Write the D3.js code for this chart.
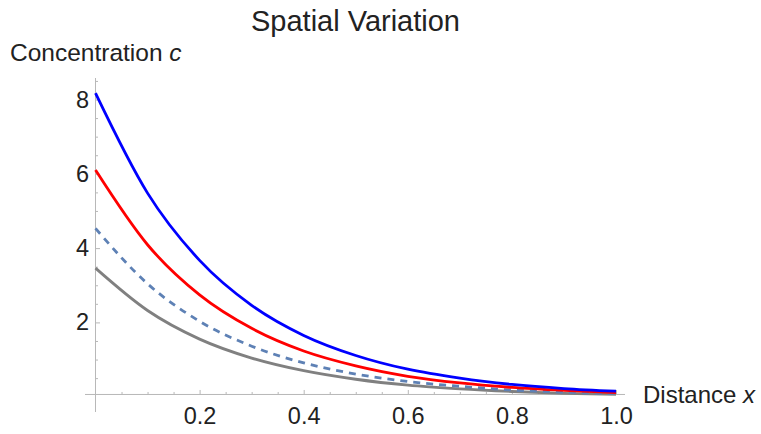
<!DOCTYPE html>
<html><head><meta charset="utf-8">
<script src="https://cdn.jsdelivr.net/npm/d3@7"></script>
<style>
html,body{margin:0;padding:0;background:#fff;}
svg{display:block;}
text{font-family:"Liberation Sans",Arial,sans-serif;fill:#222;}
</style></head>
<body>
<script>
// ---- data ----
const xs = [0, 0.1, 0.2, 0.3, 0.4, 0.5, 0.6, 0.7, 0.8, 0.9, 1.0];
const blueVals   = [8.17, 5.48, 3.67, 2.46, 1.65, 1.11, 0.74, 0.50, 0.33, 0.22, 0.15];
const redVals    = [6.10, 4.09, 2.74, 1.84, 1.23, 0.83, 0.55, 0.37, 0.25, 0.17, 0.11];
const dashedVals = [4.53, 3.04, 2.03, 1.36, 0.91, 0.61, 0.41, 0.28, 0.18, 0.12, 0.08];
const grayVals   = [3.46, 2.32, 1.55, 1.04, 0.70, 0.47, 0.31, 0.21, 0.14, 0.09, 0.06];
const xMajor = [0.2, 0.4, 0.6, 0.8, 1.0];
const xMajorLabels = ["0.2", "0.4", "0.6", "0.8", "1.0"];
const xMinor = [0.05,0.1,0.15,0.25,0.3,0.35,0.45,0.5,0.55,0.65,0.7,0.75,0.85,0.9,0.95];
const yMajor = [2, 4, 6, 8];
const yMajorLabels = ["2", "4", "6", "8"];
const yMinor = [0.5,1,1.5,2.5,3,3.5,4.5,5,5.5,6.5,7,7.5,8.5];
const axisOriginY = 0.06;
const title = "Spatial Variation";
const yLabel = "Concentration ";
const xLabel = "Distance ";

const W = 761, H = 434;
const svg = d3.select("body").append("svg").attr("width", W).attr("height", H);

const x = d3.scaleLinear().domain([0, 1]).range([95.5, 616]);
const y = d3.scaleLinear().domain([0, 8]).range([396.7, 99.5]);
const axisColor = "#b8b8b8";
const y0 = y(axisOriginY);

// axis lines
svg.append("line").attr("x1", 85).attr("x2", 625).attr("y1", y0).attr("y2", y0)
  .attr("stroke", axisColor).attr("stroke-width", 1);
svg.append("line").attr("x1", x(0)).attr("x2", x(0)).attr("y1", 78).attr("y2", 412)
  .attr("stroke", axisColor).attr("stroke-width", 1);

// x axis ticks
const gx = svg.append("g").attr("transform", `translate(0,${y0})`);
gx.append("g").call(d3.axisBottom(x).tickValues(xMinor).tickSizeInner(-2.5).tickSizeOuter(0).tickFormat(""));
gx.append("g").call(d3.axisBottom(x).tickValues(xMajor).tickSizeInner(-4.5).tickSizeOuter(0).tickPadding(12.5)
  .tickFormat((d, i) => xMajorLabels[i]));
// y axis ticks
const gy = svg.append("g").attr("transform", `translate(${x(0)},0)`);
gy.append("g").call(d3.axisLeft(y).tickValues(yMinor).tickSizeInner(-2.5).tickSizeOuter(0).tickFormat(""));
gy.append("g").call(d3.axisLeft(y).tickValues(yMajor).tickSizeInner(-4.5).tickSizeOuter(0).tickPadding(6.5)
  .tickFormat((d, i) => yMajorLabels[i]));
svg.selectAll(".domain").remove();
svg.selectAll(".tick line").attr("stroke", axisColor);
svg.selectAll(".tick text").attr("font-size", 23.5).attr("fill", "#222")
  .style("font-family", '"Liberation Sans",Arial,sans-serif');

// curves
const line = d3.line().x((d, i) => x(xs[i])).y(d => y(d)).curve(d3.curveMonotoneX);
const series = [
  {vals: grayVals, color: "#808080", dash: null},
  {vals: dashedVals, color: "#5E81B5", dash: "7,6"},
  {vals: redVals, color: "#ff0000", dash: null},
  {vals: blueVals, color: "#0000ff", dash: null}
];
series.forEach(s => {
  svg.append("path").attr("d", line(s.vals)).attr("fill", "none")
    .attr("stroke", s.color).attr("stroke-width", 2.8)
    .attr("stroke-dasharray", s.dash);
});

// texts
svg.append("text").attr("x", 355.5).attr("y", 31).attr("text-anchor", "middle")
  .attr("font-size", 29).text(title);
const yl = svg.append("text").attr("x", 10).attr("y", 61).attr("font-size", 24.5);
yl.append("tspan").text(yLabel);
yl.append("tspan").attr("font-style", "italic").text("c");
const xl = svg.append("text").attr("x", 643).attr("y", 403).attr("font-size", 24);
xl.append("tspan").text(xLabel);
xl.append("tspan").attr("font-style", "italic").text("x");
</script>
</body></html>
